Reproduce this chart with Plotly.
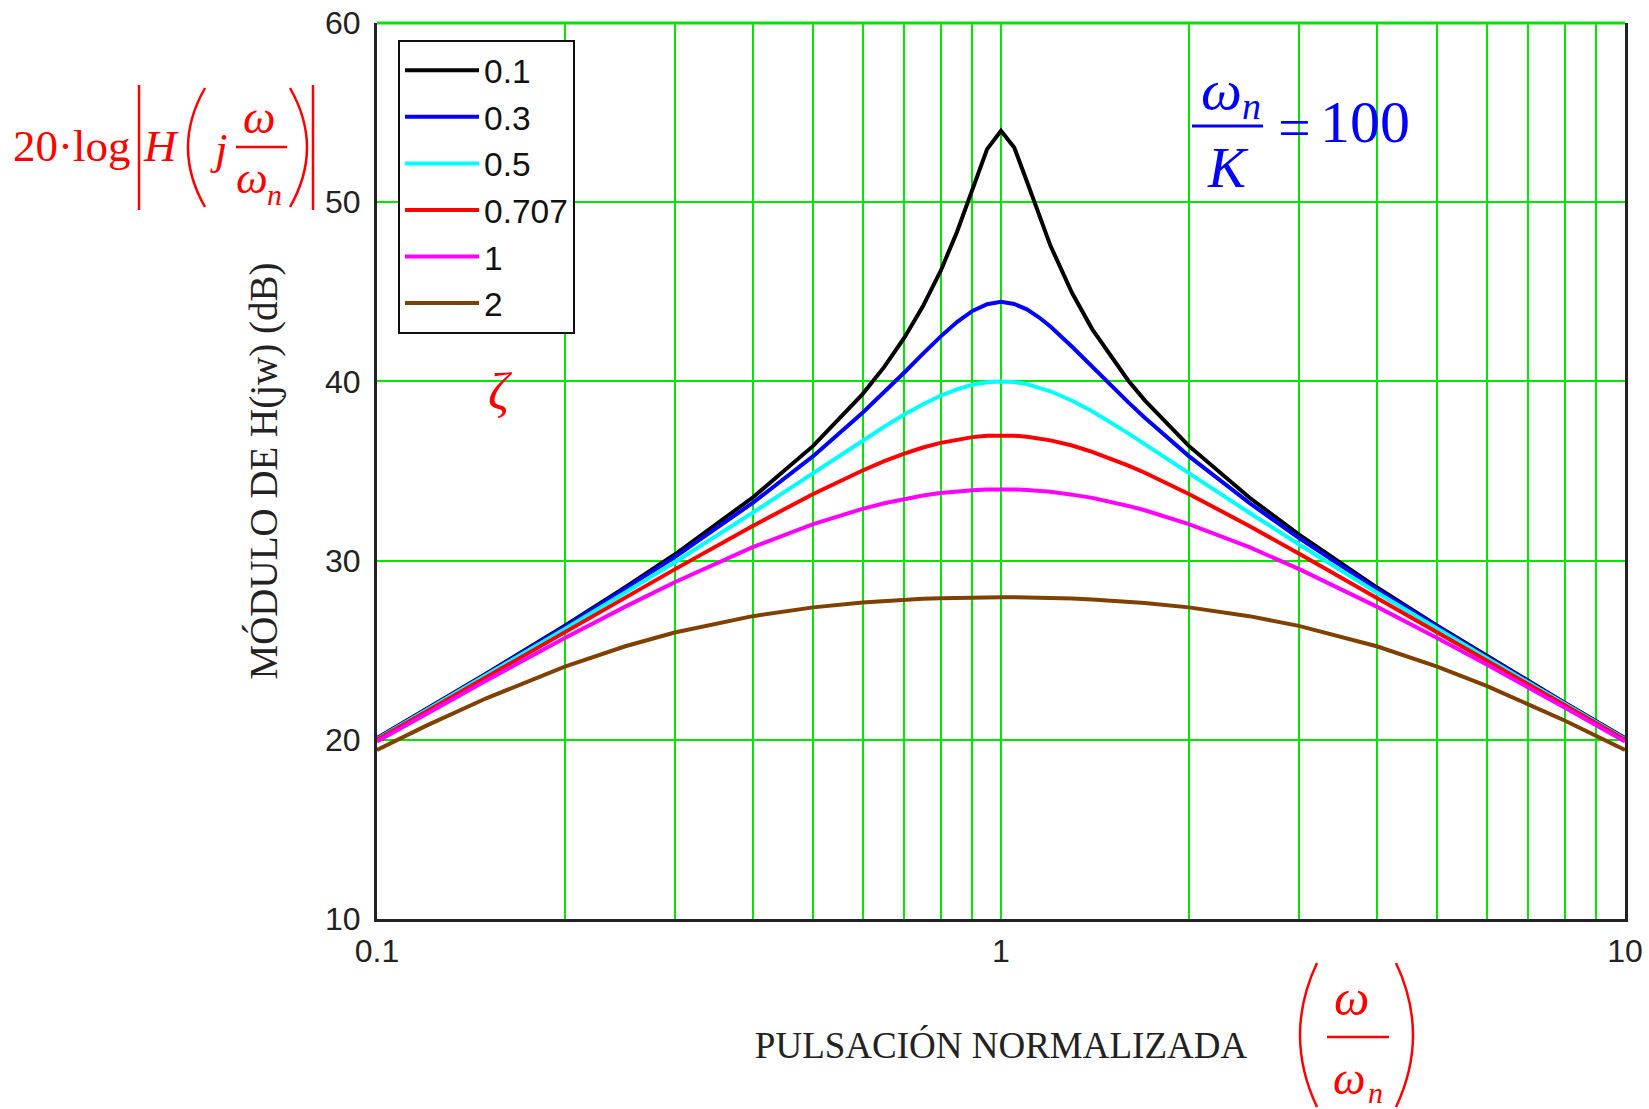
import plotly.graph_objects as go

# ---------------- data ----------------
u_norm = [0.1, 0.12, 0.15, 0.2, 0.25, 0.3, 0.4, 0.5, 0.6, 0.65,
          0.7, 0.75, 0.8, 0.85, 0.9, 0.95, 1.0, 1.05,
          1.1, 1.15, 1.2, 1.3, 1.4, 1.6, 1.7, 2, 2.5, 3,
          4, 5, 6, 8, 10]

zeta_labels = ["0.1", "0.3", "0.5", "0.707", "1", "2"]

db_z01 = [20.09, 21.71, 23.72, 26.37, 28.51, 30.34, 33.52, 36.40, 39.29, 40.81,
          42.44, 44.20, 46.15, 48.34, 50.73, 52.96, 53.98, 53.05,
          51.17, 49.26, 47.58, 44.93, 42.92, 40.04, 38.94, 36.40, 33.52, 31.46,
          28.51, 26.37, 24.68, 22.07, 20.09]
db_z03 = [20.07, 21.69, 23.68, 26.31, 28.41, 30.19, 33.22, 35.83, 38.25, 39.40,
          40.50, 41.55, 42.50, 43.31, 43.93, 44.31, 44.44, 44.32,
          44.02, 43.58, 43.06, 41.93, 40.81, 38.83, 37.97, 35.83, 33.22, 31.27,
          28.41, 26.31, 24.64, 22.05, 20.07]
db_z05 = [20.04, 21.65, 23.62, 26.19, 28.22, 29.91, 32.67, 34.88, 36.70, 37.47,
          38.15, 38.73, 39.20, 39.56, 39.81, 39.95, 40.00, 39.96,
          39.85, 39.67, 39.45, 38.92, 38.33, 37.10, 36.51, 34.88, 32.67, 30.91,
          28.22, 26.19, 24.56, 22.01, 20.04]
db_z0707 = [20.00, 21.58, 23.52, 26.01, 27.94, 29.51, 31.93, 33.72, 35.03, 35.55,
            35.97, 36.31, 36.57, 36.76, 36.89, 36.97, 36.99, 36.97,
            36.91, 36.82, 36.71, 36.42, 36.07, 35.30, 34.90, 33.72, 31.93, 30.40,
            27.94, 26.01, 24.43, 21.94, 20.00]
db_z1 = [19.91, 21.46, 23.33, 25.68, 27.43, 28.79, 30.75, 32.04, 32.89, 33.20,
         33.44, 33.63, 33.77, 33.87, 33.93, 33.97, 33.98, 33.97,
         33.94, 33.89, 33.84, 33.68, 33.50, 33.05, 32.81, 32.04, 30.75, 29.54,
         27.43, 25.68, 24.20, 21.80, 19.91]
db_z2 = [19.43, 20.79, 22.33, 24.08, 25.22, 25.99, 26.90, 27.39, 27.66, 27.75,
         27.82, 27.87, 27.90, 27.93, 27.95, 27.96, 27.96, 27.96,
         27.95, 27.94, 27.92, 27.88, 27.83, 27.71, 27.64, 27.39, 26.90, 26.36,
         25.22, 24.08, 23.01, 21.08, 19.43]

x_tick_vals = [0.1, 1, 10]
x_tick_text = ["0.1", "1", "10"]
y_tick_vals = [10, 20, 30, 40, 50, 60]
minor_grid_vals = [0.2, 0.3, 0.4, 0.5, 0.6, 0.7, 0.8, 0.9, 2, 3, 4, 5, 6, 7, 8, 9]

# ---------------- styling ----------------
series = [db_z01, db_z03, db_z05, db_z0707, db_z1, db_z2]
colors = ["#000000", "#0000FF", "#00FFFF", "#FF0000", "#FF00FF", "#804000"]
GREEN = "#00E600"
AXC = "#222222"
RED = "#FF0000"
BLUE = "#0000FF"

W, H = 1649, 1109
L, R, T, B = 377, 1625, 23, 919


def px(x):
    return (x - L) / (R - L)


def py(y):
    return (B - y) / (B - T)


fig = go.Figure()
for name, ys, c in zip(zeta_labels, series, colors):
    fig.add_trace(go.Scatter(x=u_norm, y=ys, mode="lines", name=name,
                             line=dict(color=c, width=4)))

fig.update_layout(
    width=W, height=H,
    margin=dict(l=L, r=W - R, t=T, b=H - B, autoexpand=False),
    paper_bgcolor="white", plot_bgcolor="white",
    showlegend=True,
    legend=dict(x=px(398), y=py(40), xanchor="left", yanchor="top",
                bgcolor="white", bordercolor="#111111", borderwidth=2,
                font=dict(family="Liberation Sans", size=33.5, color="#111111"),
                itemwidth=74, tracegroupgap=0),
    xaxis=dict(type="log", range=[-1, 1], tickvals=x_tick_vals, ticktext=x_tick_text,
               automargin=False,
               showgrid=True, gridcolor=GREEN, gridwidth=2,
               minor=dict(tickvals=minor_grid_vals, showgrid=True, gridcolor=GREEN,
                          gridwidth=2, ticks=""),
               showline=True, linecolor=AXC, linewidth=3, mirror=False,
               ticks="", ticklabelstandoff=2, zeroline=False,
               tickfont=dict(family="Liberation Sans", size=32, color=AXC),
               title=dict(text="PULSACIÓN NORMALIZADA", standoff=64,
                          font=dict(family="Liberation Serif", size=37, color=AXC))),
    yaxis=dict(range=[10, 60], tickvals=y_tick_vals,
               automargin=False,
               showgrid=True, gridcolor=GREEN, gridwidth=2,
               showline=True, linecolor=AXC, linewidth=3, mirror=True,
               ticks="", ticklabelstandoff=7, zeroline=False,
               tickfont=dict(family="Liberation Sans", size=32, color=AXC),
               title=dict(text="MÓDULO DE H(jw) (dB)", standoff=36,
                          font=dict(family="Liberation Serif", size=39, color=AXC))),
)

shapes = []
# green top edge at 60 dB and dark vertical marker at omega/omega_n = 1
shapes.append(dict(type="line", xref="paper", yref="paper", x0=0, x1=1, y0=1, y1=1,
                   line=dict(color=GREEN, width=3), layer="below"))
shapes.append(dict(type="line", xref="paper", yref="paper", x0=0.5, x1=0.5, y0=0, y1=1,
                   line=dict(color="#333333", width=2), layer="below"))


def hline(x0, x1, y, color, w):
    shapes.append(dict(type="line", xref="paper", yref="paper", x0=px(x0), x1=px(x1),
                       y0=py(y), y1=py(y), line=dict(color=color, width=w)))


def vline(x, y0, y1, color, w):
    shapes.append(dict(type="line", xref="paper", yref="paper", x0=px(x), x1=px(x),
                       y0=py(y0), y1=py(y1), line=dict(color=color, width=w)))


def paren(x_end, x_ctrl, y0, y1, color, w):
    ym = (y0 + y1) / 2
    path = "M {:.5f},{:.5f} Q {:.5f},{:.5f} {:.5f},{:.5f}".format(
        px(x_end), py(y0), px(x_ctrl), py(ym), px(x_end), py(y1))
    shapes.append(dict(type="path", xref="paper", yref="paper", path=path,
                       line=dict(color=color, width=w)))


annotations = []


def txt(s, x, y, size, color, xanchor="center", family="Liberation Serif"):
    annotations.append(dict(text=s, x=px(x), y=py(y), xref="paper", yref="paper",
                            xanchor=xanchor, yanchor="middle", showarrow=False,
                            font=dict(family=family, size=size, color=color)))


# red: 20·log|H(j ω/ωn)|
txt("20·log", 11, 146, 45, RED, xanchor="left")
vline(139, 85, 210, RED, 2.5)
txt("<i>H</i>", 161, 146, 45, RED)
paren(205, 171, 88, 207, RED, 2.5)
txt("<i>j</i>", 219, 149, 45, RED)
txt("<i>ω</i>", 259, 118, 46, RED)
hline(236, 287, 147, RED, 2.5)
txt("<i>ω</i>", 252, 178, 45, RED)
txt("<i>n</i>", 274, 194, 30, RED)
paren(290, 324, 88, 207, RED, 2.5)
vline(313, 85, 210, RED, 2.5)

# red: ζ (legend parameter)
txt("<i>ζ</i>", 500, 392, 52, RED)

# blue: ωn / K = 100
txt("<i>ω</i>", 1221, 89, 58, BLUE)
txt("<i>n</i>", 1251, 106, 38, BLUE)
hline(1192, 1263, 126, BLUE, 3)
txt("<i>K</i>", 1228, 168, 57, BLUE)
txt("=", 1294, 127, 58, BLUE)
txt("100", 1365, 122, 60, BLUE)

# red: (ω / ωn) next to the x title
paren(1317, 1283, 963, 1107, RED, 2.5)
txt("<i>ω</i>", 1351, 998, 50, RED)
hline(1327, 1389, 1037, RED, 2.5)
txt("<i>ω</i>", 1349, 1078, 46, RED)
txt("<i>n</i>", 1375, 1092, 30, RED)
paren(1396, 1430, 963, 1107, RED, 2.5)

fig.update_layout(shapes=shapes, annotations=annotations)

fig.write_html("out.html", config={"displayModeBar": False},
               post_script="document.body.style.margin='0';document.body.style.overflow='hidden';")
